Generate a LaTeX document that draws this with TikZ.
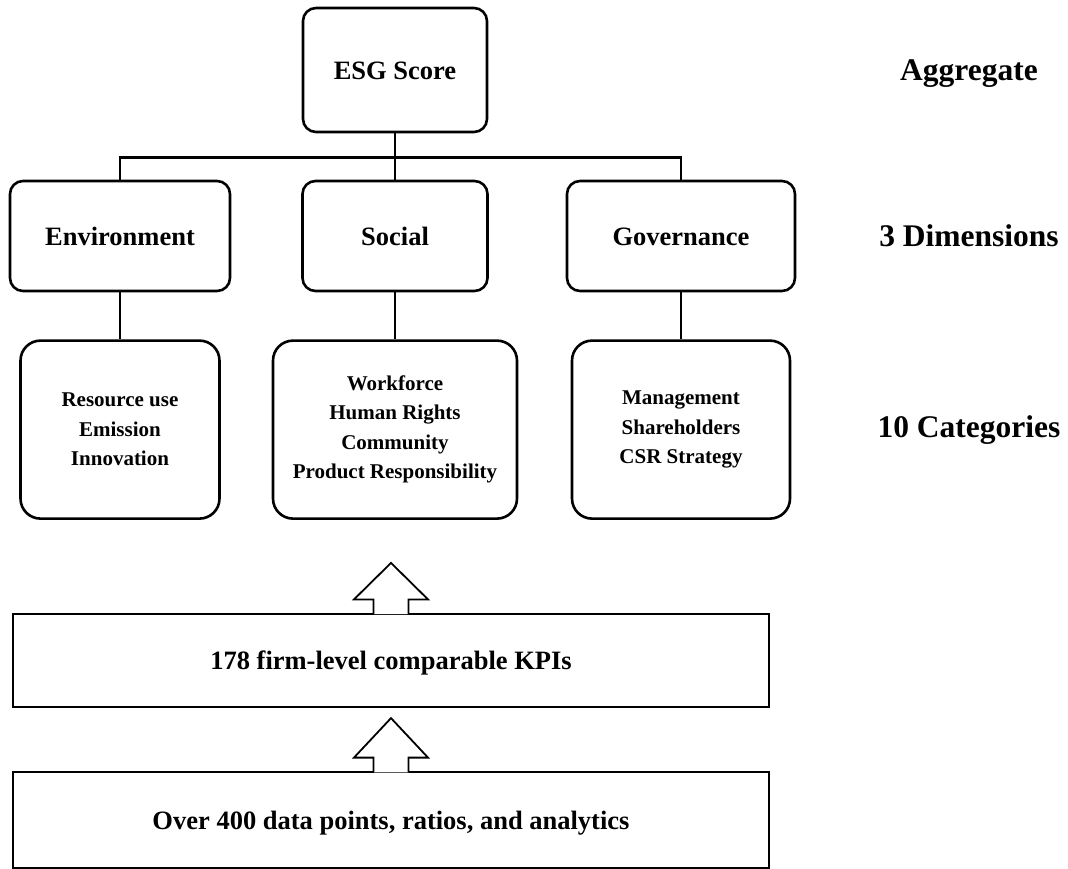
\documentclass[tikz,border=0pt]{standalone}
\usepackage{fontspec}
\setmainfont{Liberation Serif}
\usetikzlibrary{calc}
\usetikzlibrary{positioning}

\begin{document}
\begin{tikzpicture}[x=1pt,y=-1pt]
    \tikzstyle{every node}=[font=\bfseries,align=center,inner sep=0pt]
    \tikzstyle{every path}=[line width=2.4pt]
    \tikzstyle{rbox}=[draw=black,line width=2.6pt,rounded corners=13pt]
    \tikzstyle{dimbox}=[rbox,minimum height=110pt,text height=18pt,text depth=0pt,font=\bfseries\fontsize{26.5}{32}\selectfont]
    \tikzstyle{catbox}=[rbox,rounded corners=20pt,minimum height=178pt,font=\bfseries\fontsize{21}{29.5}\selectfont]
    \tikzstyle{layerbox}=[draw=black,line width=2.2pt,minimum width=756pt,text height=18pt,text depth=0pt,font=\bfseries\fontsize{26.5}{32}\selectfont]
    \tikzstyle{tiername}=[text height=21pt,text depth=0pt,font=\bfseries\fontsize{31.5}{38}\selectfont]

    \useasboundingbox (0,0) rectangle (1068,868);

    \node[dimbox,minimum width=184pt,minimum height=124pt] (esg) at (395,70) {ESG Score};

    \node[dimbox,minimum width=220pt] (env)    at (120,236) {Environment};
    \node[dimbox,minimum width=185pt] (social) at (395,236) {Social};
    \node[dimbox,minimum width=228pt] (gov)    at (681,236) {Governance};

    \node[catbox,minimum width=199pt,below=47pt of env]    (envcat)    {Resource use\\Emission\\Innovation};
    \node[catbox,minimum width=244pt,below=47pt of social] (socialcat) {Workforce\\Human Rights\\Community\\Product Responsibility};
    \node[catbox,minimum width=218pt,below=47pt of gov]    (govcat)    {Management\\Shareholders\\CSR Strategy};

    \node[layerbox,minimum height=93pt] (kpi) at (391,660.5) {178 firm-level comparable KPIs};
    \node[layerbox,minimum height=96pt,below=63pt of kpi] (raw) {Over 400 data points, ratios, and analytics};

    \node[tiername] (aggr) at (969,70)  {Aggregate};
    \node[tiername] (dims) at (969,236) {3 Dimensions};
    \node[tiername] (cats) at (969,427) {10 Categories};

    % tree lines
    \coordinate (bus) at ($(esg.south)+(0,24)$);
    \draw (esg.south) -- (bus);
    \draw (env.north) |- (bus) -| (gov.north);
    \draw (bus) -- (social.north);
    \draw (env.south) -- (env.south |- envcat.north);
    \draw (social.south) -- (social.south |- socialcat.north);
    \draw (gov.south) -- (gov.south |- govcat.north);

    \newcommand{\blockup}[2]{%
    \filldraw[fill=white,line width=1.8pt]
      ([xshift=-17.5pt,yshift=-1.3pt]#1.north) -- ([xshift=-17.5pt,yshift=13.5pt]#1.north)
      -- ([xshift=-37pt,yshift=13.5pt]#1.north) -- ([yshift=#2]#1.north)
      -- ([xshift=37pt,yshift=13.5pt]#1.north) -- ([xshift=17.5pt,yshift=13.5pt]#1.north)
      -- ([xshift=17.5pt,yshift=-1.3pt]#1.north) ;}

    \blockup{kpi}{50pt}
    \blockup{raw}{53pt}

\end{tikzpicture}
\end{document}
